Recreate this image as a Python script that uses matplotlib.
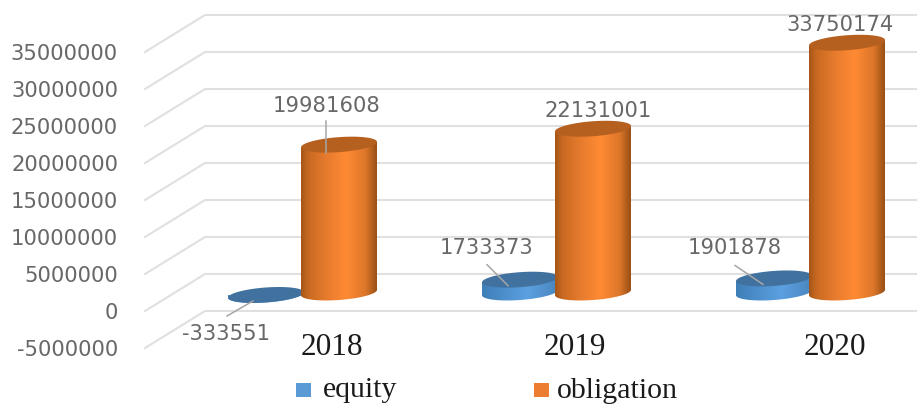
import numpy as np
import matplotlib
matplotlib.use("Agg")
import matplotlib.pyplot as plt
from matplotlib.colors import LinearSegmentedColormap
from matplotlib.patches import Polygon, Rectangle

years = ["2018", "2019", "2020"]
equity = [-333551, 1733373, 1901878]
obligation = [19981608, 22131001, 33750174]
y_ticks = [-5000000, 0, 5000000, 10000000, 15000000, 20000000, 25000000, 30000000, 35000000]

W, H = 917, 405
PX_PER_UNIT = 7.4 / 1e6   # pixels per value unit on the vertical
ZERO_PX = 311             # pixel row of value 0 on the front edge
LEFT_PX = 145
CAT0_PX = 339
CAT_STEP = 254

# label offsets in pixels from the top of each bar
equity_label = [(-40, -39), (-33, 32), (-39, 30)]
obligation_label = [(-12, 39), (5, 18), (-7, 18)]
# leader lines, (start, end) offsets in pixels from the top of the bar
equity_leader = [((-39, -21), (-13, -6)), ((-33, 15), (-12, -6)), ((-39, 13), (-11, -6))]
obligation_leader = [((-13, 24), (-13, -8)), None, None]
year_shift = [-7, -18, -12]


def px_x(p):
    return p / CAT_STEP


def px_y(p):
    return p / PX_PER_UNIT


fig = plt.figure(figsize=(W / 100, H / 100), dpi=100, facecolor="white")
ax = fig.add_axes([LEFT_PX / W, (H - 348) / H, (W - LEFT_PX) / W, 348 / H])
ax.set_xlim((LEFT_PX - CAT0_PX) / CAT_STEP, (W - CAT0_PX) / CAT_STEP)
ax.set_ylim(px_y(ZERO_PX - 348), px_y(ZERO_PX))
for s in ax.spines.values():
    s.set_visible(False)

# wall grid: slanted floor edge then the back wall line
depth_x = px_x(60)
depth_y = 5000000
x0 = ax.get_xlim()[0]
x1 = ax.get_xlim()[1]
for v in y_ticks:
    ax.plot([x0, x0 + depth_x, x1], [v, v + depth_y, v + depth_y],
            color="#e0e0e0", lw=1.5, clip_on=False, zorder=1)

ax.set_yticks(y_ticks)
ax.set_yticklabels([str(v) for v in y_ticks], fontsize=15.2, color="#686868", family="DejaVu Sans")
ax.tick_params(axis="y", length=0, pad=19.4)
ax.set_xticks([i + px_x(s) for i, s in enumerate(year_shift)])
ax.set_xticklabels(years, fontsize=22.5, color="#1a1a1a", family="Liberation Serif")
ax.tick_params(axis="x", length=0, pad=-10.5)

orange_cmap = LinearSegmentedColormap.from_list("o", [
    (0, "#a65617"), (0.1, "#c96a22"), (0.35, "#e87c2e"), (0.6, "#ff8a33"),
    (0.85, "#dd772a"), (1, "#9a5015")])
blue_cmap = LinearSegmentedColormap.from_list("b", [
    (0, "#3f7fb8"), (0.6, "#5ba0e0"), (1, "#4a86bf")])

bar_w = px_x(76)
half_h = px_y(7.5)
tilt = px_y(2.7)
base = px_y(ZERO_PX - 292.5)
theta = np.linspace(0, 2 * np.pi, 120)


def cylinder(cx, value, cmap, top_color, z):
    top = base + value
    xs = cx + bar_w / 2 * np.cos(theta)
    top_ys = top + half_h * np.sin(theta) + tilt * np.cos(theta)
    low = min(top, base)
    high = max(top, base)
    # outline of the side: lower half of the base, up to the top ellipse
    t = np.linspace(np.pi, 2 * np.pi, 60)
    side_x = cx + bar_w / 2 * np.cos(t)
    side_low = low + half_h * np.sin(t) + tilt * np.cos(t)
    side_high = high + tilt * np.cos(t)
    outline = np.r_[np.c_[side_x, side_low], np.c_[side_x[::-1], side_high[::-1]]]
    patch = Polygon(outline, closed=True, facecolor="none", edgecolor="none", zorder=z)
    ax.add_patch(patch)
    im = ax.imshow(np.linspace(0, 1, 200).reshape(1, -1), cmap=cmap, aspect="auto",
                   extent=[cx - bar_w / 2, cx + bar_w / 2, low - half_h * 2, high + half_h],
                   zorder=z, interpolation="bilinear")
    im.set_clip_path(patch)
    ax.fill(xs, top_ys, color=top_color, lw=0, zorder=z + 0.1)
    return top


xlim, ylim = ax.get_xlim(), ax.get_ylim()
blue_dx = px_x(-73)
for i in range(len(years)):
    cylinder(i + blue_dx, equity[i], blue_cmap, "#41729f", 2 + i)
    cylinder(i, obligation[i], orange_cmap, "#b5601f", 2.5 + i)
ax.set_xlim(xlim)
ax.set_ylim(ylim)


def value_label(cx, value, lab, leader):
    top = base + value
    ax.annotate(str(value), xy=(cx, top), xytext=lab, textcoords="offset pixels",
                ha="center", va="center", fontsize=15.2, color="#686868",
                family="DejaVu Sans", zorder=10, annotation_clip=False)
    if leader is not None:
        (sx, sy), (ex, ey) = leader
        ax.plot([cx + px_x(sx), cx + px_x(ex)], [top + px_y(sy), top + px_y(ey)],
                color="#a6a6a6", lw=1.1, zorder=9, clip_on=False)


for i in range(len(years)):
    value_label(i + blue_dx, equity[i], equity_label[i], equity_leader[i])
    value_label(i, obligation[i], obligation_label[i], obligation_leader[i])

# legend squares and names
for name, color, sq_x, txt_x, base_y in [("equity", "#5b9bd5", 296, 323, 397),
                                         ("obligation", "#ed7d31", 534, 557, 398.5)]:
    fig.add_artist(Rectangle((sq_x / W, 1 - 397 / H), 14.5 / W, 14 / H,
                             transform=fig.transFigure, facecolor=color, edgecolor="none"))
    fig.text(txt_x / W, 1 - base_y / H, name, fontsize=21.5, color="#1a1a1a",
             family="Liberation Serif", ha="left", va="baseline")

fig.savefig("out.png", dpi=100)
